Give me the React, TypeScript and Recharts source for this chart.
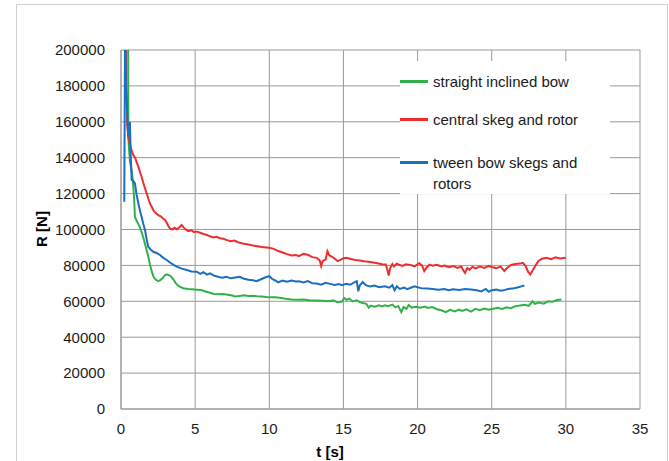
import React from 'react';
import { CartesianGrid, Line, LineChart, XAxis, YAxis } from 'recharts';

// time [s] / resistance [N]
const greenTime = [0.47, 0.5, 0.6, 0.72, 0.8, 0.88, 0.94, 1.05, 1.17, 1.28, 1.39, 1.5, 1.62, 1.73, 1.84, 1.95, 2.08, 2.2, 2.35, 2.5, 2.65, 2.8, 2.95, 3.1, 3.25, 3.38, 3.55, 3.7, 3.85, 3.96, 4.2, 4.53, 4.8, 5.1, 5.4, 5.7, 6.0, 6.27, 6.6, 6.9, 7.2, 7.5, 7.7, 8.0, 8.3, 8.6, 8.9, 9.15, 9.5, 9.8, 10.0, 10.4, 10.8, 11.1, 11.5, 11.9, 12.3, 12.7, 13.2, 13.6, 14.0, 14.3, 14.6, 14.9, 15.05, 15.2, 15.4, 15.6, 15.9, 16.1, 16.3, 16.55, 16.7, 16.85, 17.1, 17.4, 17.6, 17.8, 18.0, 18.3, 18.5, 18.7, 18.9, 19.05, 19.25, 19.4, 19.6, 19.9, 20.2, 20.5, 20.7, 21.0, 21.3, 21.6, 21.9, 22.2, 22.5, 22.8, 23.0, 23.3, 23.6, 23.9, 24.2, 24.5, 24.8, 25.1, 25.4, 25.7, 26.0, 26.3, 26.6, 26.9, 27.2, 27.5, 27.75, 27.9, 28.2, 28.5, 28.8, 29.1, 29.4, 29.7];
const greenForce = [240000, 150000, 138000, 133000, 127000, 118000, 107000, 105000, 103000, 101000, 98500, 95500, 92000, 88500, 85000, 80500, 76500, 73500, 72000, 71200, 71800, 72800, 74500, 75000, 74500, 73800, 72000, 70000, 68800, 68200, 67300, 66900, 66700, 66500, 66300, 65500, 64800, 64100, 63900, 64000, 63700, 63200, 62700, 63000, 63300, 62900, 63100, 62800, 62700, 62400, 62300, 62200, 61800, 61400, 61000, 60800, 61000, 60600, 60400, 60300, 60100, 60500, 59500, 59900, 61800, 60800, 61500, 59900, 60600, 59500, 59000, 58600, 56500, 57600, 57000, 57800, 57200, 57800, 57300, 58200, 56600, 57400, 54000, 56800, 55800, 57900, 56500, 57000, 56400, 57100, 56300, 56800, 55600, 55000, 53900, 55200, 54400, 55400, 54600, 55500, 54300, 55800, 55100, 56000, 55300, 55900, 56400, 55700, 56700, 56200, 57300, 57600, 58000, 57500, 60000, 58600, 59300, 58700, 60000, 59800, 60700, 61000];

const redTime = [0.3, 0.36, 0.42, 0.5, 0.58, 0.65, 0.72, 0.83, 0.95, 1.05, 1.17, 1.28, 1.39, 1.5, 1.62, 1.73, 1.85, 1.95, 2.07, 2.2, 2.35, 2.52, 2.7, 2.85, 2.97, 3.1, 3.2, 3.3, 3.45, 3.6, 3.76, 3.9, 4.09, 4.25, 4.4, 4.54, 4.75, 4.9, 5.1, 5.3, 5.55, 5.8, 6.0, 6.22, 6.45, 6.68, 6.9, 7.15, 7.4, 7.65, 7.9, 8.2, 8.5, 8.9, 9.2, 9.5, 9.8, 10.0, 10.3, 10.6, 10.9, 11.2, 11.5, 11.8, 12.0, 12.3, 12.6, 12.9, 13.2, 13.4, 13.5, 13.6, 13.8, 13.92, 14.05, 14.25, 14.45, 14.6, 14.8, 15.0, 15.2, 15.5, 15.8, 16.1, 16.4, 16.7, 17.0, 17.3, 17.6, 17.85, 17.95, 18.05, 18.15, 18.3, 18.4, 18.6, 18.8, 19.0, 19.2, 19.5, 19.8, 20.1, 20.3, 20.45, 20.6, 20.8, 21.0, 21.3, 21.6, 21.8, 22.1, 22.4, 22.7, 22.95, 23.1, 23.2, 23.35, 23.5, 23.7, 23.9, 24.2, 24.5, 24.8, 25.0, 25.3, 25.6, 25.85, 26.05, 26.3, 26.6, 26.9, 27.1, 27.3, 27.45, 27.6, 27.75, 27.95, 28.15, 28.4, 28.7, 29.0, 29.3, 29.6, 30.0];
const redForce = [240000, 175000, 158000, 151500, 148000, 146000, 144000, 141500, 140000, 137500, 135000, 132000, 129400, 126000, 123000, 120300, 117000, 114500, 112700, 110500, 109000, 108000, 107200, 106000, 105300, 103500, 101800, 100600, 100000, 101000, 100100, 101000, 102500, 100900, 99800, 99100, 99500, 98600, 98800, 98300, 97500, 96900, 96200, 95600, 95900, 95100, 94800, 94100, 93500, 93800, 92900, 92200, 91800, 91100, 90700, 90300, 90000, 89800, 89200, 88000, 87200, 86300, 85500, 85800, 85100, 86400, 85900, 84600, 84200, 82800, 79600, 82500, 83200, 87900, 85500, 84800, 83500, 82400, 83100, 84000, 84200, 83600, 83000, 82700, 82300, 82000, 81600, 81200, 80700, 80500, 78000, 74400, 78500, 80800, 79400, 81000, 80200, 79700, 80600, 80300, 79500, 81200, 80000, 76800, 78700, 80400, 79800, 80300, 79400, 79900, 79000, 79600, 78600, 79400, 77000, 75800, 78500, 77500, 79200, 78300, 79300, 78600, 79700, 79100, 78500, 79300, 76900, 78700, 80200, 80800, 81000, 81400, 79500, 76500, 74900, 77000, 80000, 82500, 83700, 84300, 83500, 84500, 83900, 84200];

const blueTime = [0.22, 0.28, 0.33, 0.38, 0.44, 0.49, 0.55, 0.6, 0.66, 0.72, 0.83, 0.94, 1.05, 1.17, 1.28, 1.39, 1.5, 1.62, 1.73, 1.84, 2.0, 2.18, 2.4, 2.63, 2.85, 3.08, 3.3, 3.55, 3.76, 4.1, 4.43, 4.75, 5.1, 5.35, 5.55, 5.8, 6.0, 6.3, 6.6, 6.85, 7.1, 7.4, 7.7, 8.0, 8.3, 8.6, 8.9, 9.15, 9.45, 9.75, 10.0, 10.2, 10.4, 10.6, 10.9, 11.2, 11.5, 11.8, 12.0, 12.3, 12.6, 12.9, 13.2, 13.5, 13.8, 14.1, 14.4, 14.7, 14.9, 15.2, 15.45, 15.7, 15.9, 16.0, 16.1, 16.3, 16.5, 16.8, 17.1, 17.4, 17.8, 18.1, 18.3, 18.45, 18.6, 18.8, 19.1, 19.3, 19.5, 19.8, 20.0, 20.3, 20.7, 21.0, 21.4, 21.8, 22.1, 22.4, 22.8, 23.2, 23.6, 24.0, 24.3, 24.6, 24.8, 25.0, 25.3, 25.6, 25.8, 26.1, 26.5, 26.8, 27.0, 27.2];
const blueForce = [115500, 220000, 180000, 174000, 160000, 151700, 156000, 160000, 140000, 127600, 127000, 125700, 119500, 114600, 110500, 107100, 103200, 99700, 94500, 90400, 88800, 87600, 86900, 85800, 84200, 83000, 81600, 80300, 79300, 78200, 77400, 76600, 76500, 75300, 76200, 74900, 75600, 74200, 73500, 73100, 73700, 72800, 73300, 73600, 72600, 72000, 71700, 71200, 72300, 73400, 74000, 72400, 71600, 70600, 71500, 70900, 71600, 71000, 71200, 70500, 71300, 70100, 69900, 69300, 70300, 69700, 69100, 69600, 69000, 69800, 69200, 70400, 71200, 65600, 68800, 70700, 69000, 68200, 68800, 67900, 68400, 67600, 69000, 66200, 68400, 66900, 67600, 66800, 67400, 68400, 67800, 67200, 67100, 66900, 66400, 66800, 66200, 66700, 66300, 66900, 66600, 66200, 65500, 66900, 65300, 66200, 66500, 65900, 66100, 66800, 67300, 67800, 68300, 68800];

const xTicks = [0, 5, 10, 15, 20, 25, 30, 35];
const yTicks = [0, 20000, 40000, 60000, 80000, 100000, 120000, 140000, 160000, 180000, 200000];

const series = [
  { name: 'straight inclined bow', color: '#33b04a', time: greenTime, force: greenForce },
  { name: 'central skeg and rotor', color: '#ee2e2e', time: redTime, force: redForce },
  { name: 'tween bow skegs and rotors', color: '#1a6fbf', time: blueTime, force: blueForce },
];

const FONT = '"Liberation Sans", Arial, sans-serif';
const GRID = '#999999';

export default function App() {
  return (
    <div
      style={{
        position: 'absolute',
        left: 0,
        top: 0,
        width: 669,
        height: 461,
        background: '#fff',
        overflow: 'hidden',
        fontFamily: FONT,
      }}
    >
      <div
        style={{
          position: 'absolute',
          left: 16,
          top: 4,
          width: 650,
          height: 470,
          border: '1px solid #d0d0d0',
        }}
      />
      <div style={{ position: 'absolute', left: 0, top: 0 }}>
        <LineChart width={669} height={461} margin={{ top: 50, right: 29, bottom: 22, left: 0 }}>
          <CartesianGrid stroke={GRID} />
          <XAxis
            type="number"
            dataKey="t"
            domain={[0, 35]}
            ticks={xTicks}
            allowDataOverflow
            height={30}
            tickSize={0}
            tickMargin={14}
            axisLine={{ stroke: GRID }}
            tick={{ fill: '#1a1a1a', fontSize: 15, fontFamily: FONT }}
          />
          <YAxis
            type="number"
            domain={[0, 200000]}
            ticks={yTicks}
            allowDataOverflow
            width={121}
            tickSize={0}
            tickMargin={16}
            axisLine={{ stroke: GRID }}
            tick={{ fill: '#1a1a1a', fontSize: 15, fontFamily: FONT }}
          />
          {series.map((s) => (
            <Line
              key={s.name}
              data={s.time.map((t, i) => ({ t, r: s.force[i] }))}
              dataKey="r"
              name={s.name}
              stroke={s.color}
              strokeWidth={2}
              dot={false}
              activeDot={false}
              isAnimationActive={false}
            />
          ))}
        </LineChart>
      </div>

      {/* legend, sitting on a white patch over the grid */}
      <div
        style={{
          position: 'absolute',
          left: 400,
          top: 61,
          width: 210,
          height: 133,
          background: '#fff',
          fontSize: 15,
          color: '#1a1a1a',
        }}
      >
        {series.map((s, i) => (
          <div
            key={s.name}
            style={{ position: 'absolute', left: 0, top: [10, 48, 91][i], display: 'flex', alignItems: 'flex-start' }}
          >
            <div style={{ width: 28, height: 3, background: s.color, marginTop: 9, marginRight: 5 }} />
            <div style={{ width: 165, lineHeight: '21px' }}>{s.name}</div>
          </div>
        ))}
      </div>

      <div
        style={{
          position: 'absolute',
          left: 41,
          top: 229,
          transform: 'translate(-50%, -50%) rotate(-90deg)',
          fontWeight: 'bold',
          fontSize: 15,
          whiteSpace: 'nowrap',
        }}
      >
        R [N]
      </div>
      <div
        style={{
          position: 'absolute',
          left: 330,
          top: 451,
          transform: 'translate(-50%, -50%)',
          fontWeight: 'bold',
          fontSize: 15,
          whiteSpace: 'nowrap',
        }}
      >
        t [s]
      </div>
    </div>
  );
}
